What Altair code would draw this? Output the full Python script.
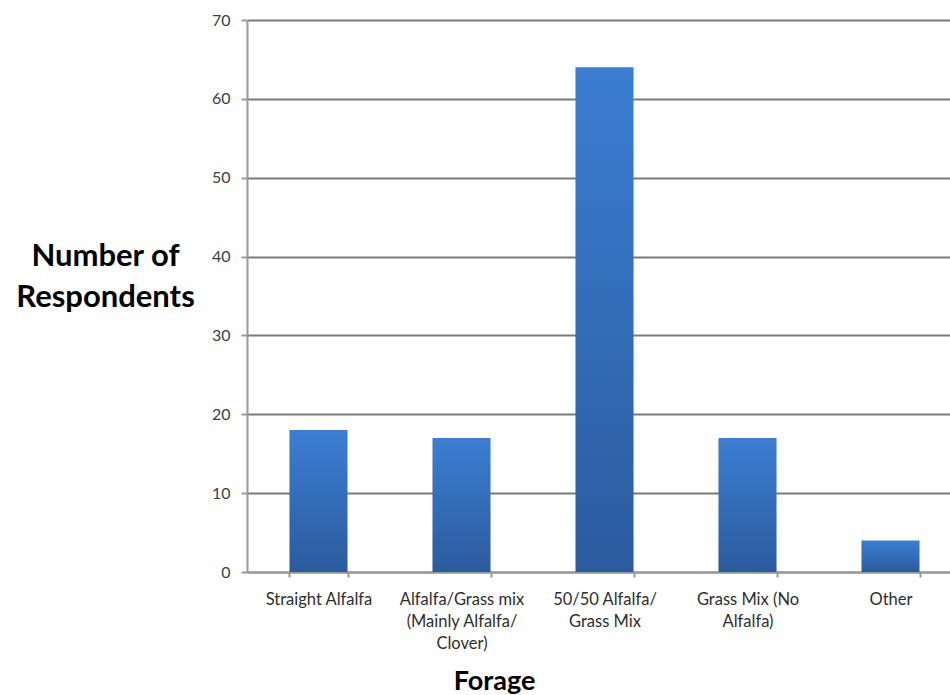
import altair as alt
import pandas as pd

categories = [
    "Straight Alfalfa",
    "Alfalfa/Grass mix|(Mainly Alfalfa/|Clover)",
    "50/50 Alfalfa/|Grass Mix",
    "Grass Mix (No|Alfalfa)",
    "Other",
]
respondents = [18, 17, 64, 17, 4]
y_ticks = [0, 10, 20, 30, 40, 50, 60, 70]

df = pd.DataFrame({"Forage": categories, "Respondents": respondents})

grad = alt.Gradient(
    gradient="linear",
    stops=[
        alt.GradientStop(color="#3b7ed2", offset=0),
        alt.GradientStop(color="#2b5b9e", offset=1),
    ],
    x1=0, x2=0, y1=0, y2=1,
)

chart = alt.Chart(df).mark_bar(color=grad).encode(
    x=alt.X(
        "Forage:N",
        sort=categories,
        scale=alt.Scale(range=[0, 715], paddingInner=0.594, paddingOuter=0.297),
        axis=alt.Axis(
            title="Forage",
            titleFont="Lato",
            titleFontSize=27,
            titleFontWeight="bold",
            titleColor="#000000",
            titleX=247,
            titleY=109,
            titleBaseline="middle",
            titleAlign="center",
            titleAnchor="start",
            labelExpr="split(datum.label, '|')",
            labelAngle=0,
            labelFont="Lato",
            labelFontSize=16.5,
            labelColor="#2e2e2e",
            labelLineHeight=22,
            labelPadding=14,
            labelBaseline="top",
            tickBand="extent",
            tickSize=5,
            tickColor="#999999",
            tickWidth=2,
            domainColor="#999999",
            domainWidth=2,
            grid=False,
        ),
    ),
    y=alt.Y(
        "Respondents:Q",
        scale=alt.Scale(domain=[0, 70], nice=False),
        axis=alt.Axis(
            values=y_ticks,
            title=["Number of", "Respondents"],
            titleFont="Lato",
            titleFontSize=31,
            titleFontWeight="bold",
            titleColor="#000000",
            titleAngle=0,
            titleAlign="center",
            titleBaseline="middle",
            titleLineHeight=41,
            titleX=-142,
            titleY=236,
            labelFont="Lato",
            labelFontSize=16,
            labelColor="#404040",
            labelPadding=11,
            tickSize=6,
            tickColor="#999999",
            tickWidth=2,
            domainColor="#999999",
            domainWidth=2,
            gridColor="#7a7a7a",
            gridWidth=2,
            gridOpacity=1,
        ),
    ),
).properties(
    width=703,
    height=552,
    padding={"left": 247, "top": 20, "right": 0, "bottom": 123},
    autosize=alt.AutoSizeParams(type="none"),
).configure_view(stroke=None).configure(background="#ffffff")

chart.save("out.html", embed_options={"renderer": "svg", "actions": False})
